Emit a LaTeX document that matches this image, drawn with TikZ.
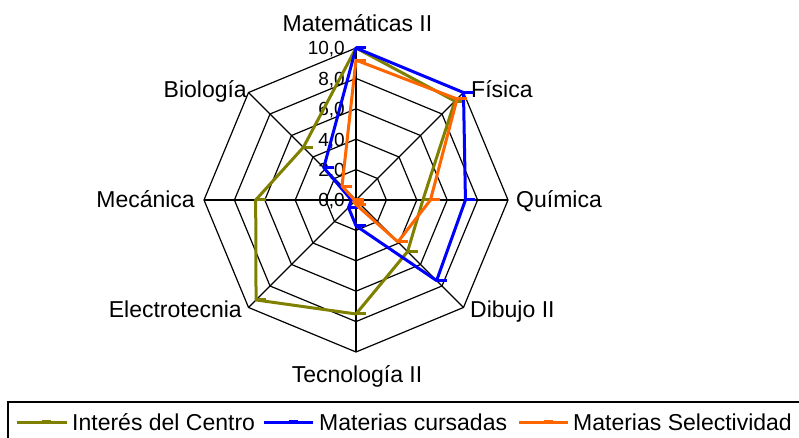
\documentclass[tikz,border=0pt]{standalone}
\usepackage{fontspec}
\setmainfont{Liberation Sans}
\usetikzlibrary{positioning, calc}
\definecolor{interesolive}{RGB}{128,128,0}
\definecolor{cursadasblue}{RGB}{0,0,255}
\definecolor{selectorange}{RGB}{255,102,0}

\newcommand{\radarunit}{15.2}
% one series: name, colour, eight values (clockwise from the top)
\newcommand{\radarserie}[3]{%
    \foreach \v [count=\k from 0] in {#3} {
        \coordinate (#1\k) at ($(c)+({90-45*\k}:{\v*\radarunit})$);
    }
    \draw[serie, #2] (#10) \foreach \k in {1,...,7} { -- (#1\k) } -- cycle;
    \foreach \k in {0,...,7} \draw[#2, line width=3pt] (#1\k) -- ++(10,0);
}

\begin{document}
\begin{tikzpicture}[x=1pt, y=1pt,
        gridline/.style={black, line width=1.2pt},
        serie/.style={line width=3pt, line join=round},
        axislabel/.style={font=\fontsize{23}{27}\selectfont, inner sep=0pt},
        ticklabel/.style={font=\fontsize{19}{22}\selectfont, inner sep=0pt, anchor=base east},
        legendtext/.style={font=\fontsize{23}{27}\selectfont, inner sep=0pt, anchor=base west}]
    \useasboundingbox (0,0) rectangle (799,438);
    \clip (0,0) rectangle (799,438);
    \coordinate (c) at (356,238);

    % Rings
    \foreach \r in {2,4,...,10} {
        \draw[gridline] ($(c)+(90:{\r*\radarunit})$) \foreach \k in {1,...,7} { -- ($(c)+({90-45*\k}:{\r*\radarunit})$) } -- cycle;
    }

    % Spokes
    \foreach \k in {0,...,7} {
        \coordinate (ax\k) at ($(c)+({90-45*\k}:{10*\radarunit})$);
        \draw[gridline] (c) -- (ax\k);
    }

    % Scale
    \foreach \t in {0,2,...,10}
        \node[ticklabel] (tick\t) at ($(c)+(-11,{\t*\radarunit-7})$) {\t,0};

    % Axis labels
    \node[axislabel, anchor=base] (lmat) at (357.5,406) {Matemáticas II};
    \node[axislabel, anchor=base west] (lfis) at (471,340) {Física};
    \node[axislabel, anchor=base west] (lqui) at (516,230) {Química};
    \node[axislabel, anchor=base west] (ldib) at (470,120) {Dibujo II};
    \node[axislabel, anchor=base] (ltec) at (357,55) {Tecnología II};
    \node[axislabel, anchor=base east] (lele) at (242,120) {Electrotecnia};
    \node[axislabel, anchor=base east] (lmec) at (195,230) {Mecánica};
    \node[axislabel, anchor=base east] (lbio) at (247,340) {Biología};

    % Series
    \radarserie{int}{interesolive}{10,9.2,4.4,4.8,7.5,9.3,6.6,4.9}
    \radarserie{cur}{cursadasblue}{10,10,7.2,7.5,1.7,0.7,0.3,3.0}
    \radarserie{sel}{selectorange}{9.2,9.4,4.9,3.9,0.3,0.2,0.1,1.3}

    % Legend
    \draw[gridline] (8,-10) rectangle (810,36);
    \coordinate (k1a) at (17,15);  \coordinate (k1b) at (67,15);
    \coordinate (k2a) at (264,15); \coordinate (k2b) at (313,15);
    \coordinate (k3a) at (519,15); \coordinate (k3b) at (568,15);
    \draw[serie, interesolive] (k1a) -- (k1b);
    \draw[interesolive, line width=2pt] ($(k1a)!0.5!(k1b)+(0,1.5)$) -- ++(9,0);
    \draw[serie, cursadasblue] (k2a) -- (k2b);
    \draw[cursadasblue, line width=2pt] ($(k2a)!0.5!(k2b)+(0,1.5)$) -- ++(9,0);
    \draw[serie, selectorange] (k3a) -- (k3b);
    \draw[selectorange, line width=2pt] ($(k3a)!0.5!(k3b)+(0,1.5)$) -- ++(9,0);
    \node[legendtext] (leg1) at (72,7) {Interés del Centro};
    \node[legendtext] (leg2) at (319,7) {Materias cursadas};
    \node[legendtext] (leg3) at (573,7) {Materias Selectividad};
\end{tikzpicture}
\end{document}
